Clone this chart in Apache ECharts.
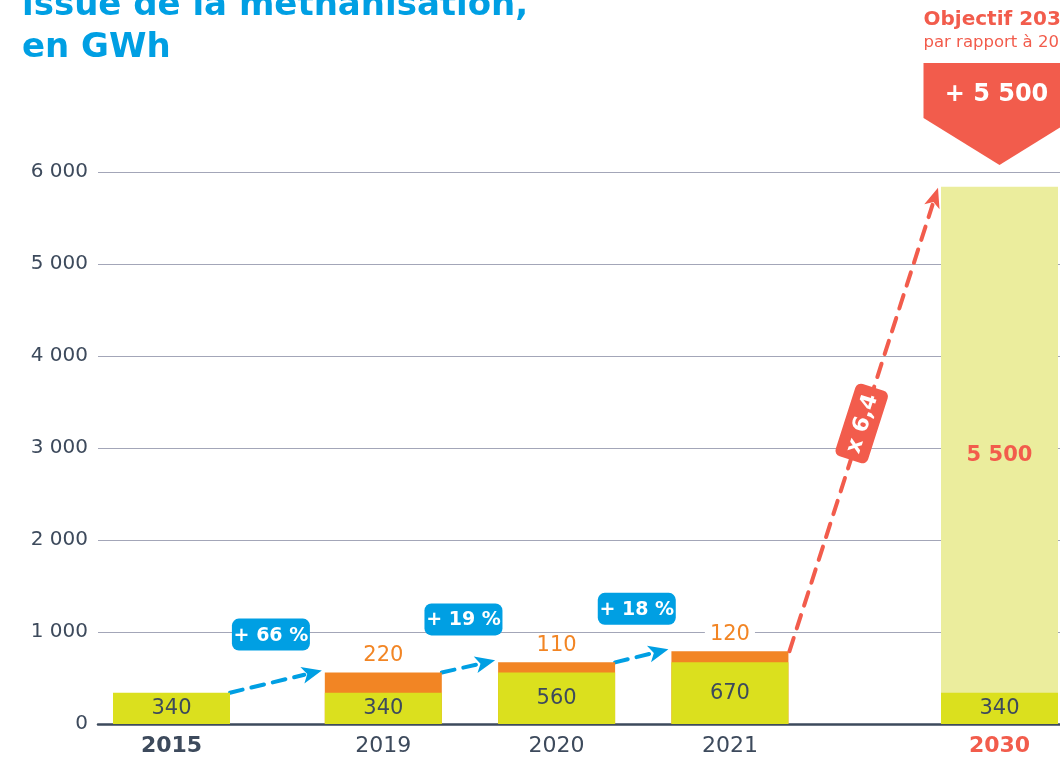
<!DOCTYPE html>
<html><head><meta charset="utf-8">
<script src="https://cdn.jsdelivr.net/npm/echarts@6/dist/echarts.min.js"></script>
<style>html,body{margin:0;padding:0;background:#fff}#c{width:1060px;height:760px}</style>
</head><body><div id="c"></div>
<script>
// ---- data ----
const categories = ['2015', '2019', '2020', '2021', '2030'];
const baseValues = [340, 340, 560, 670, 340];          // reference production (yellow)
const increaseValues = [null, 220, 110, 120, null];    // yearly increase (orange)
const objectiveValues = [null, null, null, null, 5500];// 2030 objective (light)
const yTicks = [0, 1000, 2000, 3000, 4000, 5000, 6000];
const growthLabels = ['+ 66 %', '+ 19 %', '+ 18 %'];
const ratioLabel = 'x 6,4';
const objectiveTitle = 'Objectif 2030';
const objectiveSub = 'par rapport à 2015';
const objectiveBadge = '+ 5 500';
const titleLines = ['issue de la méthanisation,', 'en GWh'];

// ---- layout (slot positions on the x axis, not data) ----
const xSlots = [0, 11, 20, 29, 43];

const FONT = 'DejaVu Sans';
const DARK = '#3d4a5c';
const RED = '#f25c4c';
const BLUE = '#009fe3';
const ORANGE = '#f28524';
const YEL = '#dbe01e';
const LIGHT = '#ebed9d';
const BARW = 117;

const fmt = v => String(v).replace(/\B(?=(\d{3})+(?!\d))/g, ' ');
const withInc = baseValues.map((b, i) => increaseValues[i] == null ? null : b + increaseValues[i]);
const withObj = baseValues.map((b, i) => objectiveValues[i] == null ? null : b + objectiveValues[i]);
const totals = baseValues.map((b, i) => b + (increaseValues[i] || 0) + (objectiveValues[i] || 0));
const pts = arr => arr.map((v, i) => [xSlots[i], v]);

const chart = echarts.init(document.getElementById('c'), null, {renderer: 'canvas'});
const option = {
  animation: false,
  textStyle: {fontFamily: FONT},
  grid: {left: 98, right: 0, top: 172, bottom: 36, containLabel: false},
  xAxis: {
    type: 'value', min: -3.817, max: 46.142,
    splitLine: {show: false},
    axisTick: {show: false},
    axisLine: {show: true, lineStyle: {color: DARK, width: 2.5}},
    axisLabel: {
      customValues: xSlots,
      margin: 11,
      fontSize: 22, color: DARK, fontFamily: FONT,
      formatter: v => {
        let i = 0, d = Infinity;
        xSlots.forEach((s, k) => { if (Math.abs(s - v) < d) { d = Math.abs(s - v); i = k; } });
        if (i === 0) return '{b|' + categories[i] + '}';
        if (i === categories.length - 1) return '{r|' + categories[i] + '}';
        return categories[i];
      },
      rich: {
        b: {fontSize: 22, fontWeight: 'bold', color: DARK, fontFamily: FONT},
        r: {fontSize: 22, fontWeight: 'bold', color: RED, fontFamily: FONT}
      }
    }
  },
  yAxis: {
    type: 'value', min: 0, max: 6000, interval: 1000,
    axisLine: {show: false}, axisTick: {show: false},
    splitLine: {lineStyle: {color: '#a3a6b8', width: 1}},
    axisLabel: {fontSize: 20, color: DARK, margin: 10, fontFamily: FONT,
      formatter: v => yTicks.indexOf(v) >= 0 ? fmt(v) : ''}
  },
  series: [
    {type: 'bar', name: 'objective', barWidth: BARW, barGap: '-100%', data: pts(withObj), z: 2,
     itemStyle: {color: LIGHT},
     label: {show: true, position: 'inside', fontSize: 21, fontWeight: 'bold', color: RED, fontFamily: FONT,
       formatter: p => objectiveValues[p.dataIndex] == null ? '' : fmt(objectiveValues[p.dataIndex])}},
    {type: 'bar', name: 'increase', barWidth: BARW, barGap: '-100%', data: pts(withInc), z: 3,
     itemStyle: {color: ORANGE},
     label: {show: true, position: 'top', distance: 6, fontSize: 21, color: ORANGE, fontFamily: FONT,
       backgroundColor: '#fff', padding: [0, 5],
       formatter: p => increaseValues[p.dataIndex] == null ? '' : fmt(increaseValues[p.dataIndex])}},
    {type: 'bar', name: 'base', barWidth: BARW, barGap: '-100%', data: pts(baseValues), z: 4,
     itemStyle: {color: YEL},
     label: {show: true, position: 'inside', fontSize: 21, color: DARK, fontFamily: FONT,
       formatter: p => fmt(baseValues[p.dataIndex])}}
  ]
};
chart.setOption(option);

// ---- annotations anchored on the chart scales ----
const px = (x, y) => chart.convertToPixel({gridIndex: 0}, [x, y]);
const half = BARW / 2;

function arrow(p0, p1, color, width, dash, hl, hw) {
  const dx = p1[0] - p0[0], dy = p1[1] - p0[1];
  const L = Math.hypot(dx, dy), ux = dx / L, uy = dy / L;
  const bx = p1[0] - ux * hl, by = p1[1] - uy * hl;
  const nx = -uy, ny = ux;
  return [
    {type: 'line', silent: true, shape: {x1: p0[0], y1: p0[1], x2: bx + ux * 2, y2: by + uy * 2},
     style: {stroke: color, lineWidth: width, lineDash: dash, lineCap: 'round'}},
    {type: 'polygon', silent: true, shape: {points: [[p1[0], p1[1]], [bx + nx * hw / 2, by + ny * hw / 2], [bx + ux * hl * 0.25, by + uy * hl * 0.25], [bx - nx * hw / 2, by - ny * hw / 2]]},
     style: {fill: color}}
  ];
}

const g = [];
// title
g.push({type: 'text', left: 22, top: -11, silent: true,
  style: {text: titleLines[0], font: 'bold 34px ' + FONT, fill: BLUE}});
g.push({type: 'text', left: 22, top: 31, silent: true,
  style: {text: titleLines[1], font: 'bold 34px ' + FONT, fill: BLUE}});

// blue growth arrows + badges
for (let i = 0; i < 3; i++) {
  const a = px(xSlots[i], totals[i]);
  const b = px(xSlots[i + 1], totals[i + 1]);
  const p0 = [a[0] + half, a[1]];
  const p1 = [b[0] - half - 3, b[1] - 2];
  arrow(p0, p1, BLUE, 4, [13, 9], 20, 17).forEach(e => g.push(e));
  const mx = (p0[0] + p1[0]) / 2 - 5, my = (p0[1] + p1[1]) / 2 - 47;
  g.push({type: 'group', x: mx, y: my, silent: true, children: [
    {type: 'rect', shape: {x: -39, y: -16, width: 78, height: 32, r: 7}, style: {fill: BLUE}},
    {type: 'text', style: {text: growthLabels[i], x: 0, y: 1, align: 'center', verticalAlign: 'middle',
      font: 'bold 19px ' + FONT, fill: '#fff'}}
  ]});
}

// red ratio arrow 2021 -> 2030
{
  const a = px(xSlots[3], totals[3]);
  const b = px(xSlots[4], totals[4]);
  const p0 = [a[0] + half + 1, a[1]];
  const p1 = [b[0] - half - 3, b[1] + 1];
  arrow(p0, p1, RED, 4, [14, 10], 20, 16).forEach(e => g.push(e));
  const mx = (p0[0] + p1[0]) / 2 - 2, my = (p0[1] + p1[1]) / 2 + 4;
  const ang = Math.atan2(p0[1] - p1[1], p1[0] - p0[0]);
  g.push({type: 'group', x: mx, y: my, rotation: ang, silent: true, children: [
    {type: 'rect', shape: {x: -38, y: -17, width: 76, height: 34, r: 6}, style: {fill: RED}},
    {type: 'text', style: {text: ratioLabel, x: 0, y: 1, align: 'center', verticalAlign: 'middle',
      font: 'bold 22px ' + FONT, fill: '#fff'}}
  ]});
}

// objective badge above 2030
{
  const c = px(xSlots[4], 0)[0];
  const L = c - 76, R = c + 76;
  g.push({type: 'text', silent: true, style: {text: objectiveTitle, x: L, y: 20, verticalAlign: 'middle',
    font: 'bold 20px ' + FONT, fill: RED}});
  g.push({type: 'text', silent: true, style: {text: objectiveSub, x: L, y: 43, verticalAlign: 'middle',
    font: '16.5px ' + FONT, fill: RED}});
  g.push({type: 'polygon', silent: true, shape: {points: [[L, 63], [R, 63], [R, 118], [c, 165], [L, 118]]},
    style: {fill: RED}});
  g.push({type: 'text', silent: true, style: {text: objectiveBadge, x: c - 3, y: 95, align: 'center', verticalAlign: 'middle',
    font: 'bold 24px ' + FONT, fill: '#fff'}});
}

chart.setOption({graphic: {elements: g}});
</script>
</body></html>
